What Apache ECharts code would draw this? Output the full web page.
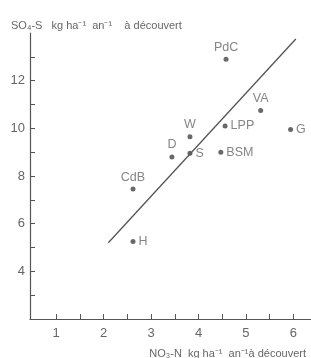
<!DOCTYPE html>
<html>
<head>
<meta charset="utf-8">
<script src="https://cdn.jsdelivr.net/npm/echarts@6/dist/echarts.min.js"></script>
<style>
  html, body { margin: 0; padding: 0; background: #fff; }
  #chart { width: 311px; height: 358px; }
</style>
</head>
<body>
<div id="chart"></div>
<script>
// sites
var sites = ['PdC', 'VA', 'LPP', 'G', 'W', 'D', 'S', 'BSM', 'CdB', 'H'];
// NO3-N (x)
var no3 = [4.58, 5.31, 4.56, 5.94, 3.82, 3.44, 3.82, 4.47, 2.62, 2.62];
// SO4-S (y)
var so4 = [12.9, 10.75, 10.1, 9.95, 9.65, 8.8, 8.95, 9.0, 7.45, 5.25];
// label side for each point
var labelPos = ['top', 'top', 'right', 'right', 'top', 'top', 'right', 'right', 'top', 'right'];
// regression line ends
var fitX = [2.1, 6.05];
var fitY = [5.2, 13.75];
// ticks
var xTicks = [1, 1.5, 2, 2.5, 3, 3.5, 4, 4.5, 5, 5.5, 6];
var xLabels = [1, 2, 3, 4, 5, 6];
var yTicks = [3, 4, 5, 6, 7, 8, 9, 10, 11, 12, 13];
var yLabels = [4, 6, 8, 10, 12];

var ink = '#555';
var txt = '#666';

var pts = sites.map(function (s, i) {
  return {
    value: [no3[i], so4[i]],
    name: s,
    label: { position: labelPos[i] }
  };
});

var myChart = echarts.init(document.getElementById('chart'));
myChart.setOption({
  animation: false,
  title: [
    {
      text: 'SO₄-S   kg ha⁻¹  an⁻¹    à découvert',
      left: 6, top: 15,
      textStyle: { fontFamily: 'Liberation Sans', fontSize: 11, fontWeight: 'normal', color: txt }
    },
    {
      text: 'NO₃-N  kg ha⁻¹  an⁻¹à découvert',
      right: 0, top: 343,
      textStyle: { fontFamily: 'Liberation Sans', fontSize: 11, fontWeight: 'normal', color: txt }
    }
  ],
  grid: { left: 30, top: 33, right: 0, bottom: 39, containLabel: false },
  xAxis: {
    type: 'value',
    min: 0.45, max: 6.37,
    splitLine: { show: false },
    axisLine: { lineStyle: { color: ink, width: 1.2 } },
    axisTick: { inside: true, length: 5, customValues: xTicks, lineStyle: { color: ink } },
    axisLabel: { customValues: xLabels, margin: 8, fontFamily: 'Liberation Sans', fontSize: 13, color: txt }
  },
  yAxis: {
    type: 'value',
    min: 2, max: 14,
    splitLine: { show: false },
    axisLine: { lineStyle: { color: ink, width: 1.2 } },
    axisTick: { inside: true, length: 5, customValues: yTicks, lineStyle: { color: ink } },
    axisLabel: { customValues: yLabels, margin: 5, fontFamily: 'Liberation Sans', fontSize: 13, color: txt }
  },
  series: [
    {
      type: 'line',
      data: fitX.map(function (x, i) { return [x, fitY[i]]; }),
      symbol: 'none',
      lineStyle: { color: ink, width: 1.3 },
      silent: true
    },
    {
      type: 'scatter',
      data: pts,
      symbolSize: 5,
      itemStyle: { color: '#444' },
      label: {
        show: true,
        formatter: '{b}',
        distance: 3,
        fontFamily: 'Liberation Sans',
        fontSize: 12.5,
        color: txt
      }
    }
  ]
});
</script>
</body>
</html>
